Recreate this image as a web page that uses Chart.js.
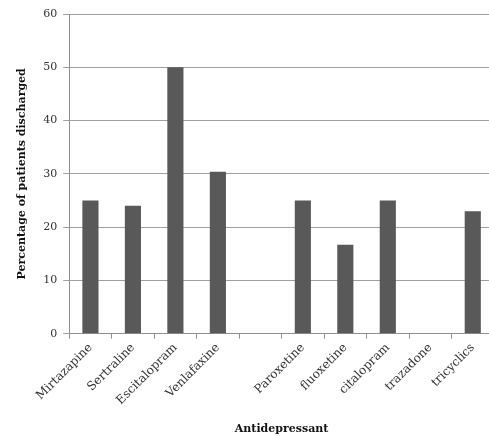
<!DOCTYPE html>
<html>
<head>
<meta charset="utf-8">
<script src="https://cdn.jsdelivr.net/npm/chart.js@4/dist/chart.umd.min.js"></script>
<style>
  html, body { margin: 0; padding: 0; background: #fff; overflow: hidden; }
  #wrap { width: 494px; height: 436px; }
</style>
</head>
<body>
<div id="wrap"><canvas id="chart"></canvas></div>
<script>
const drugs = ["Mirtazapine", "Sertraline", "Escitalopram", "Venlafaxine", "", "Paroxetine", "fluoxetine", "citalopram", "trazadone", "tricyclics"];
const discharged = [25, 24, 50, 30.4, null, 25, 16.7, 25, 0, 23];
const yTicks = [0, 10, 20, 30, 40, 50, 60];

Chart.defaults.font.family = "'DejaVu Serif', 'Liberation Serif', serif";
Chart.defaults.color = "#333";

new Chart(document.getElementById("chart"), {
  type: "bar",
  data: {
    labels: drugs,
    datasets: [{
      label: "Percentage of patients discharged",
      data: discharged,
      backgroundColor: "#595959",
      categoryPercentage: 1,
      barPercentage: 0.38
    }]
  },
  options: {
    responsive: true,
    maintainAspectRatio: false,
    animation: false,
    layout: { padding: { top: 14, left: 12, right: 0, bottom: 0 } },
    plugins: { legend: { display: false }, tooltip: { enabled: false } },
    scales: {
      y: {
        min: 0,
        max: 60,
        afterBuildTicks: axis => { axis.ticks = yTicks.map(v => ({ value: v })); },
        ticks: { font: { size: 11 }, padding: 6, color: "#333" },
        grid: { color: "#a0a0a0", tickLength: 6, lineWidth: 1 },
        border: { color: "#909090" },
        title: {
          display: true,
          text: "Percentage of patients discharged",
          font: { size: 11, weight: "bold" },
          color: "#111",
          padding: { bottom: 8 }
        }
      },
      x: {
        ticks: { font: { size: 12 }, maxRotation: 45, minRotation: 45, color: "#333", padding: 2 },
        grid: { drawOnChartArea: false, color: "#909090", tickLength: 5 },
        border: { color: "#909090" },
        title: {
          display: true,
          text: "Antidepressant",
          font: { size: 11, weight: "bold" },
          color: "#111",
          padding: { top: 13, bottom: 0 }
        }
      }
    }
  }
});
</script>
</body>
</html>
